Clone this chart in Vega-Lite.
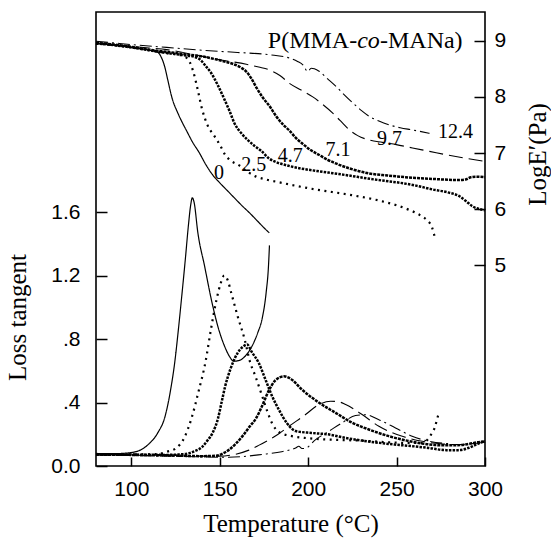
{
  "$schema": "https://vega.github.io/schema/vega-lite/v6.json",
  "width": 389,
  "height": 454,
  "autosize": {"type": "none"},
  "padding": {"left": 96, "top": 12, "right": 66, "bottom": 73},
  "background": "white",
  "config": {
    "view": {"stroke": "black", "strokeWidth": 1.6},
    "axis": {
      "domain": false, "grid": false, "tickColor": "black", "tickWidth": 1.5,
      "labelColor": "black", "labelFont": "Liberation Sans", "labelFontSize": 21,
      "labelFlush": false, "labelOverlap": false, "labelBound": false,
      "titleFont": "Liberation Serif", "titleFontSize": 25, "titleFontWeight": "normal", "titleColor": "black"
    }
  },
  "datasets": {
    "E": [
      {"s":"0","T":80,"v":8.95},{"s":"0","T":90,"v":8.92},{"s":"0","T":100,"v":8.88},{"s":"0","T":110,"v":8.83},{"s":"0","T":115,"v":8.79},{"s":"0","T":117,"v":8.7},{"s":"0","T":119,"v":8.52},{"s":"0","T":120.6,"v":8.3},{"s":"0","T":123,"v":7.98},{"s":"0","T":126.3,"v":7.71},{"s":"0","T":129,"v":7.53},{"s":"0","T":131,"v":7.41},{"s":"0","T":134.5,"v":7.2},{"s":"0","T":138.5,"v":7.0},{"s":"0","T":142,"v":6.8},{"s":"0","T":146,"v":6.61},{"s":"0","T":150,"v":6.47},{"s":"0","T":154,"v":6.34},{"s":"0","T":158,"v":6.21},{"s":"0","T":163,"v":6.05},{"s":"0","T":167,"v":5.93},{"s":"0","T":171,"v":5.8},{"s":"0","T":175,"v":5.67},{"s":"0","T":178,"v":5.58},
      {"s":"2.5","T":80,"v":8.95},{"s":"2.5","T":90,"v":8.92},{"s":"2.5","T":100,"v":8.88},{"s":"2.5","T":110,"v":8.83},{"s":"2.5","T":120,"v":8.78},{"s":"2.5","T":128,"v":8.74},{"s":"2.5","T":131,"v":8.7},{"s":"2.5","T":133,"v":8.62},{"s":"2.5","T":135,"v":8.45},{"s":"2.5","T":137,"v":8.2},{"s":"2.5","T":140,"v":7.78},{"s":"2.5","T":143,"v":7.5},{"s":"2.5","T":147,"v":7.3},{"s":"2.5","T":150,"v":7.15},{"s":"2.5","T":153,"v":6.97},{"s":"2.5","T":156,"v":6.87},{"s":"2.5","T":161,"v":6.78},{"s":"2.5","T":166,"v":6.66},{"s":"2.5","T":170.6,"v":6.58},{"s":"2.5","T":176,"v":6.53},{"s":"2.5","T":182,"v":6.49},{"s":"2.5","T":191,"v":6.43},{"s":"2.5","T":204.5,"v":6.35},{"s":"2.5","T":223,"v":6.26},{"s":"2.5","T":242,"v":6.14},{"s":"2.5","T":250,"v":6.07},{"s":"2.5","T":257,"v":5.99},{"s":"2.5","T":263,"v":5.9},{"s":"2.5","T":267,"v":5.81},{"s":"2.5","T":270,"v":5.68},{"s":"2.5","T":272,"v":5.45},
      {"s":"4.7","T":80,"v":8.95},{"s":"4.7","T":90,"v":8.92},{"s":"4.7","T":100,"v":8.88},{"s":"4.7","T":110,"v":8.83},{"s":"4.7","T":120,"v":8.78},{"s":"4.7","T":130,"v":8.74},{"s":"4.7","T":136,"v":8.71},{"s":"4.7","T":139,"v":8.66},{"s":"4.7","T":142,"v":8.55},{"s":"4.7","T":145.2,"v":8.42},{"s":"4.7","T":149,"v":8.2},{"s":"4.7","T":152.7,"v":7.95},{"s":"4.7","T":155.5,"v":7.75},{"s":"4.7","T":158.3,"v":7.53},{"s":"4.7","T":162,"v":7.36},{"s":"4.7","T":165.9,"v":7.23},{"s":"4.7","T":169.5,"v":7.13},{"s":"4.7","T":173.4,"v":7.04},{"s":"4.7","T":178,"v":6.9},{"s":"4.7","T":181,"v":6.85},{"s":"4.7","T":188,"v":6.78},{"s":"4.7","T":195,"v":6.73},{"s":"4.7","T":205,"v":6.68},{"s":"4.7","T":214,"v":6.64},{"s":"4.7","T":223,"v":6.6},{"s":"4.7","T":233,"v":6.55},{"s":"4.7","T":242,"v":6.51},{"s":"4.7","T":252,"v":6.47},{"s":"4.7","T":261,"v":6.42},{"s":"4.7","T":270.5,"v":6.35},{"s":"4.7","T":279,"v":6.3},{"s":"4.7","T":285.6,"v":6.23},{"s":"4.7","T":289.4,"v":6.14},{"s":"4.7","T":293,"v":6.05},{"s":"4.7","T":297,"v":6.0},{"s":"4.7","T":300,"v":5.98},
      {"s":"7.1","T":80,"v":8.96},{"s":"7.1","T":90,"v":8.93},{"s":"7.1","T":100,"v":8.89},{"s":"7.1","T":110,"v":8.84},{"s":"7.1","T":120,"v":8.8},{"s":"7.1","T":130,"v":8.76},{"s":"7.1","T":140,"v":8.72},{"s":"7.1","T":150,"v":8.65},{"s":"7.1","T":158,"v":8.58},{"s":"7.1","T":162,"v":8.52},{"s":"7.1","T":165,"v":8.45},{"s":"7.1","T":168,"v":8.32},{"s":"7.1","T":171,"v":8.15},{"s":"7.1","T":174.5,"v":7.98},{"s":"7.1","T":178.5,"v":7.82},{"s":"7.1","T":182,"v":7.65},{"s":"7.1","T":186,"v":7.5},{"s":"7.1","T":189.4,"v":7.4},{"s":"7.1","T":193,"v":7.27},{"s":"7.1","T":197,"v":7.16},{"s":"7.1","T":201,"v":7.06},{"s":"7.1","T":206,"v":6.97},{"s":"7.1","T":211,"v":6.88},{"s":"7.1","T":216,"v":6.81},{"s":"7.1","T":224,"v":6.72},{"s":"7.1","T":234,"v":6.64},{"s":"7.1","T":245,"v":6.6},{"s":"7.1","T":255,"v":6.57},{"s":"7.1","T":270,"v":6.54},{"s":"7.1","T":285,"v":6.52},{"s":"7.1","T":289,"v":6.53},{"s":"7.1","T":292,"v":6.57},{"s":"7.1","T":295,"v":6.58},{"s":"7.1","T":300,"v":6.57},
      {"s":"9.7","T":80,"v":8.96},{"s":"9.7","T":90,"v":8.93},{"s":"9.7","T":100,"v":8.9},{"s":"9.7","T":110,"v":8.87},{"s":"9.7","T":120,"v":8.84},{"s":"9.7","T":137,"v":8.74},{"s":"9.7","T":150,"v":8.66},{"s":"9.7","T":165,"v":8.58},{"s":"9.7","T":172,"v":8.53},{"s":"9.7","T":178,"v":8.48},{"s":"9.7","T":184,"v":8.38},{"s":"9.7","T":189.4,"v":8.24},{"s":"9.7","T":196,"v":8.12},{"s":"9.7","T":202.6,"v":8.0},{"s":"9.7","T":208,"v":7.87},{"s":"9.7","T":213.9,"v":7.71},{"s":"9.7","T":218,"v":7.58},{"s":"9.7","T":223.4,"v":7.41},{"s":"9.7","T":228,"v":7.31},{"s":"9.7","T":234.7,"v":7.23},{"s":"9.7","T":242,"v":7.19},{"s":"9.7","T":249.8,"v":7.15},{"s":"9.7","T":259,"v":7.09},{"s":"9.7","T":268.6,"v":7.03},{"s":"9.7","T":278,"v":6.97},{"s":"9.7","T":288.4,"v":6.91},{"s":"9.7","T":300,"v":6.85},
      {"s":"12.4","T":80,"v":8.99},{"s":"12.4","T":90,"v":8.96},{"s":"12.4","T":100,"v":8.93},{"s":"12.4","T":120,"v":8.88},{"s":"12.4","T":140,"v":8.83},{"s":"12.4","T":160,"v":8.79},{"s":"12.4","T":178,"v":8.75},{"s":"12.4","T":189.4,"v":8.69},{"s":"12.4","T":194,"v":8.63},{"s":"12.4","T":197,"v":8.57},{"s":"12.4","T":199.8,"v":8.45},{"s":"12.4","T":201.7,"v":8.51},{"s":"12.4","T":203.5,"v":8.5},{"s":"12.4","T":206.4,"v":8.45},{"s":"12.4","T":211,"v":8.32},{"s":"12.4","T":215.9,"v":8.18},{"s":"12.4","T":220,"v":8.05},{"s":"12.4","T":225.3,"v":7.89},{"s":"12.4","T":230,"v":7.76},{"s":"12.4","T":234.7,"v":7.65},{"s":"12.4","T":240,"v":7.57},{"s":"12.4","T":246,"v":7.5},{"s":"12.4","T":252,"v":7.45},{"s":"12.4","T":259.2,"v":7.41},{"s":"12.4","T":268.6,"v":7.35}
    ],
    "tan": [
      {"s":"0","T":80,"v":0.078},{"s":"0","T":90,"v":0.078},{"s":"0","T":100,"v":0.085},{"s":"0","T":105,"v":0.1},{"s":"0","T":110,"v":0.14},{"s":"0","T":115,"v":0.21},{"s":"0","T":119,"v":0.31},{"s":"0","T":122.5,"v":0.5},{"s":"0","T":124.5,"v":0.65},{"s":"0","T":126.5,"v":0.85},{"s":"0","T":128.5,"v":1.07},{"s":"0","T":130.5,"v":1.3},{"s":"0","T":132.3,"v":1.52},{"s":"0","T":133.5,"v":1.64},{"s":"0","T":134.5,"v":1.69},{"s":"0","T":135.5,"v":1.66},{"s":"0","T":137.6,"v":1.47},{"s":"0","T":141.4,"v":1.26},{"s":"0","T":145.2,"v":1.05},{"s":"0","T":148.9,"v":0.88},{"s":"0","T":152.7,"v":0.755},{"s":"0","T":155.5,"v":0.69},{"s":"0","T":158,"v":0.66},{"s":"0","T":161,"v":0.665},{"s":"0","T":165,"v":0.7},{"s":"0","T":168,"v":0.75},{"s":"0","T":171.5,"v":0.84},{"s":"0","T":174,"v":0.93},{"s":"0","T":176.3,"v":1.1},{"s":"0","T":177.5,"v":1.25},{"s":"0","T":178.1,"v":1.39},
      {"s":"2.5","T":80,"v":0.075},{"s":"2.5","T":100,"v":0.073},{"s":"2.5","T":115,"v":0.075},{"s":"2.5","T":120,"v":0.09},{"s":"2.5","T":125,"v":0.11},{"s":"2.5","T":130,"v":0.18},{"s":"2.5","T":134,"v":0.3},{"s":"2.5","T":138,"v":0.47},{"s":"2.5","T":142,"v":0.66},{"s":"2.5","T":145,"v":0.86},{"s":"2.5","T":148,"v":1.04},{"s":"2.5","T":150.5,"v":1.15},{"s":"2.5","T":152.5,"v":1.2},{"s":"2.5","T":154.5,"v":1.17},{"s":"2.5","T":156.5,"v":1.09},{"s":"2.5","T":160.2,"v":0.94},{"s":"2.5","T":164,"v":0.8},{"s":"2.5","T":167,"v":0.66},{"s":"2.5","T":170,"v":0.57},{"s":"2.5","T":174,"v":0.44},{"s":"2.5","T":177,"v":0.34},{"s":"2.5","T":180,"v":0.26},{"s":"2.5","T":184,"v":0.21},{"s":"2.5","T":190,"v":0.19},{"s":"2.5","T":200,"v":0.175},{"s":"2.5","T":215,"v":0.165},{"s":"2.5","T":230,"v":0.16},{"s":"2.5","T":245,"v":0.15},{"s":"2.5","T":258,"v":0.145},{"s":"2.5","T":264,"v":0.145},{"s":"2.5","T":267,"v":0.16},{"s":"2.5","T":269,"v":0.19},{"s":"2.5","T":271.5,"v":0.24},{"s":"2.5","T":272.8,"v":0.29},{"s":"2.5","T":274,"v":0.34},
      {"s":"4.7","T":80,"v":0.075},{"s":"4.7","T":100,"v":0.072},{"s":"4.7","T":120,"v":0.07},{"s":"4.7","T":130,"v":0.075},{"s":"4.7","T":136,"v":0.095},{"s":"4.7","T":140,"v":0.12},{"s":"4.7","T":143,"v":0.16},{"s":"4.7","T":146,"v":0.21},{"s":"4.7","T":149,"v":0.3},{"s":"4.7","T":151,"v":0.4},{"s":"4.7","T":153,"v":0.5},{"s":"4.7","T":156,"v":0.61},{"s":"4.7","T":160,"v":0.71},{"s":"4.7","T":163,"v":0.75},{"s":"4.7","T":165.5,"v":0.765},{"s":"4.7","T":168,"v":0.72},{"s":"4.7","T":172,"v":0.65},{"s":"4.7","T":176,"v":0.54},{"s":"4.7","T":179.6,"v":0.44},{"s":"4.7","T":183.4,"v":0.355},{"s":"4.7","T":188,"v":0.27},{"s":"4.7","T":193,"v":0.22},{"s":"4.7","T":202,"v":0.208},{"s":"4.7","T":212,"v":0.198},{"s":"4.7","T":221,"v":0.177},{"s":"4.7","T":230.5,"v":0.16},{"s":"4.7","T":240,"v":0.146},{"s":"4.7","T":249,"v":0.135},{"s":"4.7","T":259,"v":0.125},{"s":"4.7","T":268,"v":0.114},{"s":"4.7","T":278,"v":0.1},{"s":"4.7","T":285,"v":0.1},{"s":"4.7","T":291,"v":0.115},{"s":"4.7","T":296,"v":0.14},{"s":"4.7","T":300,"v":0.156},
      {"s":"7.1","T":80,"v":0.072},{"s":"7.1","T":100,"v":0.07},{"s":"7.1","T":120,"v":0.067},{"s":"7.1","T":140,"v":0.062},{"s":"7.1","T":148,"v":0.065},{"s":"7.1","T":152,"v":0.08},{"s":"7.1","T":155,"v":0.1},{"s":"7.1","T":159,"v":0.14},{"s":"7.1","T":163,"v":0.19},{"s":"7.1","T":167,"v":0.25},{"s":"7.1","T":170.5,"v":0.3},{"s":"7.1","T":174,"v":0.38},{"s":"7.1","T":177.5,"v":0.47},{"s":"7.1","T":181.5,"v":0.54},{"s":"7.1","T":186.3,"v":0.565},{"s":"7.1","T":190,"v":0.55},{"s":"7.1","T":196.6,"v":0.48},{"s":"7.1","T":206,"v":0.4},{"s":"7.1","T":215.5,"v":0.335},{"s":"7.1","T":225,"v":0.272},{"s":"7.1","T":234.3,"v":0.23},{"s":"7.1","T":245.6,"v":0.188},{"s":"7.1","T":257,"v":0.157},{"s":"7.1","T":268.3,"v":0.136},{"s":"7.1","T":276,"v":0.13},{"s":"7.1","T":283,"v":0.13},{"s":"7.1","T":290,"v":0.137},{"s":"7.1","T":295,"v":0.148},{"s":"7.1","T":300,"v":0.156},
      {"s":"9.7","T":80,"v":0.07},{"s":"9.7","T":100,"v":0.068},{"s":"9.7","T":130,"v":0.063},{"s":"9.7","T":150,"v":0.062},{"s":"9.7","T":158,"v":0.072},{"s":"9.7","T":166.5,"v":0.1},{"s":"9.7","T":172,"v":0.13},{"s":"9.7","T":177.8,"v":0.165},{"s":"9.7","T":183,"v":0.2},{"s":"9.7","T":189.1,"v":0.25},{"s":"9.7","T":198.5,"v":0.324},{"s":"9.7","T":206.1,"v":0.387},{"s":"9.7","T":212.7,"v":0.408},{"s":"9.7","T":217,"v":0.405},{"s":"9.7","T":221.2,"v":0.387},{"s":"9.7","T":230.5,"v":0.324},{"s":"9.7","T":240,"v":0.25},{"s":"9.7","T":253.2,"v":0.187},{"s":"9.7","T":264.5,"v":0.156},{"s":"9.7","T":275,"v":0.14},{"s":"9.7","T":285,"v":0.135},{"s":"9.7","T":292,"v":0.14},{"s":"9.7","T":300,"v":0.15},
      {"s":"12.4","T":80,"v":0.07},{"s":"12.4","T":100,"v":0.066},{"s":"12.4","T":130,"v":0.06},{"s":"12.4","T":155,"v":0.055},{"s":"12.4","T":174,"v":0.073},{"s":"12.4","T":185,"v":0.09},{"s":"12.4","T":192.9,"v":0.114},{"s":"12.4","T":194.7,"v":0.124},{"s":"12.4","T":196.5,"v":0.11},{"s":"12.4","T":198.5,"v":0.112},{"s":"12.4","T":204.2,"v":0.166},{"s":"12.4","T":211.7,"v":0.219},{"s":"12.4","T":219.2,"v":0.272},{"s":"12.4","T":226.8,"v":0.318},{"s":"12.4","T":232.5,"v":0.323},{"s":"12.4","T":240,"v":0.292},{"s":"12.4","T":249.4,"v":0.24},{"s":"12.4","T":258.8,"v":0.187},{"s":"12.4","T":268.3,"v":0.156},{"s":"12.4","T":280,"v":0.14}
    ],
    "lab": [
      {"t":"0","T":149.6,"v":6.64},{"t":"2.5","T":169.2,"v":6.79},{"t":"4.7","T":189.9,"v":6.94},
      {"t":"7.1","T":216.8,"v":7.06},{"t":"9.7","T":246,"v":7.25},{"t":"12.4","T":283.3,"v":7.38}
    ]
  },
  "resolve": {"scale": {"y": "independent"}},
  "layer": [
    {
      "layer": [
        {
          "data": {"name": "E"},
          "mark": {"type": "line", "interpolate": "monotone", "color": "black"},
          "encoding": {
            "x": {"field": "T", "type": "quantitative", "scale": {"domain": [80, 300], "nice": false, "zero": false},
                  "axis": {"title": "Temperature (°C)", "values": [100, 150, 200, 250, 300], "tickSize": -9, "labelPadding": 21, "titleY": 65, "titleBaseline": "alphabetic"}},
            "y": {"field": "v", "type": "quantitative", "scale": {"domain": [1.43, 9.51], "nice": false, "zero": false},
                  "axis": {"orient": "right", "title": "LogE′(Pa)", "values": [5, 6, 7, 8, 9], "tickSize": -11, "labelPadding": 20, "titleAngle": 270, "titleX": 52, "titleY": 142, "titleAlign": "center", "titleBaseline": "middle"}},
            "strokeDash": {"field": "s", "type": "nominal", "legend": null,
                  "scale": {"type": "ordinal", "domain": ["0", "2.5", "4.7", "7.1", "9.7", "12.4"], "range": [[1, 0], [2, 4.5], [2.5, 1.2], [3, 1], [14, 6], [12, 4, 2, 4]]}},
            "strokeWidth": {"field": "s", "type": "nominal", "legend": null,
                  "scale": {"type": "ordinal", "domain": ["0", "2.5", "4.7", "7.1", "9.7", "12.4"], "range": [1.2, 2.2, 2.5, 2.5, 1.1, 1.1]}}
          }
        },
        {
          "data": {"name": "lab"},
          "mark": {"type": "text", "font": "Liberation Serif", "fontSize": 20, "align": "center", "baseline": "middle", "color": "black"},
          "encoding": {
            "x": {"field": "T", "type": "quantitative", "scale": {"domain": [80, 300], "nice": false, "zero": false},
                  "axis": {"title": "Temperature (°C)", "values": [100, 150, 200, 250, 300], "tickSize": -9, "labelPadding": 21, "titleY": 65, "titleBaseline": "alphabetic"}},
            "y": {"field": "v", "type": "quantitative", "scale": {"domain": [1.43, 9.51], "nice": false, "zero": false},
                  "axis": {"orient": "right", "title": "LogE′(Pa)", "values": [5, 6, 7, 8, 9], "tickSize": -11, "labelPadding": 20, "titleAngle": 270, "titleX": 52, "titleY": 142, "titleAlign": "center", "titleBaseline": "middle"}},
            "text": {"field": "t"}
          }
        },
        {
          "data": {"values": [{}]},
          "mark": {"type": "text", "font": "Liberation Serif", "fontSize": 24, "align": "right", "baseline": "alphabetic", "color": "black", "text": "P(MMA-"},
          "encoding": {
            "x": {"datum": 227.7, "type": "quantitative", "scale": {"domain": [80, 300], "nice": false, "zero": false},
                  "axis": {"title": "Temperature (°C)", "values": [100, 150, 200, 250, 300], "tickSize": -9, "labelPadding": 21, "titleY": 65, "titleBaseline": "alphabetic"}},
            "y": {"datum": 8.865, "type": "quantitative", "scale": {"domain": [1.43, 9.51], "nice": false, "zero": false},
                  "axis": {"orient": "right", "title": "LogE′(Pa)", "values": [5, 6, 7, 8, 9], "tickSize": -11, "labelPadding": 20, "titleAngle": 270, "titleX": 52, "titleY": 142, "titleAlign": "center", "titleBaseline": "middle"}}
          }
        },
        {
          "data": {"values": [{}]},
          "mark": {"type": "text", "font": "Liberation Serif", "fontSize": 24, "fontStyle": "italic", "align": "center", "baseline": "alphabetic", "color": "black", "text": "co"},
          "encoding": {
            "x": {"datum": 234.1, "type": "quantitative", "scale": {"domain": [80, 300], "nice": false, "zero": false},
                  "axis": {"title": "Temperature (°C)", "values": [100, 150, 200, 250, 300], "tickSize": -9, "labelPadding": 21, "titleY": 65, "titleBaseline": "alphabetic"}},
            "y": {"datum": 8.865, "type": "quantitative", "scale": {"domain": [1.43, 9.51], "nice": false, "zero": false},
                  "axis": {"orient": "right", "title": "LogE′(Pa)", "values": [5, 6, 7, 8, 9], "tickSize": -11, "labelPadding": 20, "titleAngle": 270, "titleX": 52, "titleY": 142, "titleAlign": "center", "titleBaseline": "middle"}}
          }
        },
        {
          "data": {"values": [{}]},
          "mark": {"type": "text", "font": "Liberation Serif", "fontSize": 24, "align": "left", "baseline": "alphabetic", "color": "black", "text": "-MANa)"},
          "encoding": {
            "x": {"datum": 240.6, "type": "quantitative", "scale": {"domain": [80, 300], "nice": false, "zero": false},
                  "axis": {"title": "Temperature (°C)", "values": [100, 150, 200, 250, 300], "tickSize": -9, "labelPadding": 21, "titleY": 65, "titleBaseline": "alphabetic"}},
            "y": {"datum": 8.865, "type": "quantitative", "scale": {"domain": [1.43, 9.51], "nice": false, "zero": false},
                  "axis": {"orient": "right", "title": "LogE′(Pa)", "values": [5, 6, 7, 8, 9], "tickSize": -11, "labelPadding": 20, "titleAngle": 270, "titleX": 52, "titleY": 142, "titleAlign": "center", "titleBaseline": "middle"}}
          }
        }
      ]
    },
    {
      "data": {"name": "tan"},
      "mark": {"type": "line", "interpolate": "monotone", "color": "black"},
      "encoding": {
        "x": {"field": "T", "type": "quantitative", "scale": {"domain": [80, 300], "nice": false, "zero": false},
              "axis": {"title": "Temperature (°C)", "values": [100, 150, 200, 250, 300], "tickSize": -9, "labelPadding": 21, "titleY": 65, "titleBaseline": "alphabetic"}},
        "y": {"field": "v", "type": "quantitative", "scale": {"domain": [0, 2.86], "nice": false, "zero": false},
              "axis": {"orient": "left", "title": "Loss tangent", "values": [0, 0.4, 0.8, 1.2, 1.6], "tickSize": -11, "labelPadding": 27,
                       "labelExpr": "datum.value > 0 && datum.value < 1 ? slice(format(datum.value, '.1f'), 1) : format(datum.value, '.1f')",
                       "titleAngle": 270, "titleX": -79, "titleY": 305, "titleAlign": "center", "titleBaseline": "middle"}},
        "strokeDash": {"field": "s", "type": "nominal", "legend": null,
              "scale": {"type": "ordinal", "domain": ["0", "2.5", "4.7", "7.1", "9.7", "12.4"], "range": [[1, 0], [2, 4.5], [2.5, 1.2], [3, 1], [14, 6], [12, 4, 2, 4]]}},
        "strokeWidth": {"field": "s", "type": "nominal", "legend": null,
              "scale": {"type": "ordinal", "domain": ["0", "2.5", "4.7", "7.1", "9.7", "12.4"], "range": [1.2, 2.2, 2.5, 2.5, 1.1, 1.1]}}
      }
    }
  ]
}
